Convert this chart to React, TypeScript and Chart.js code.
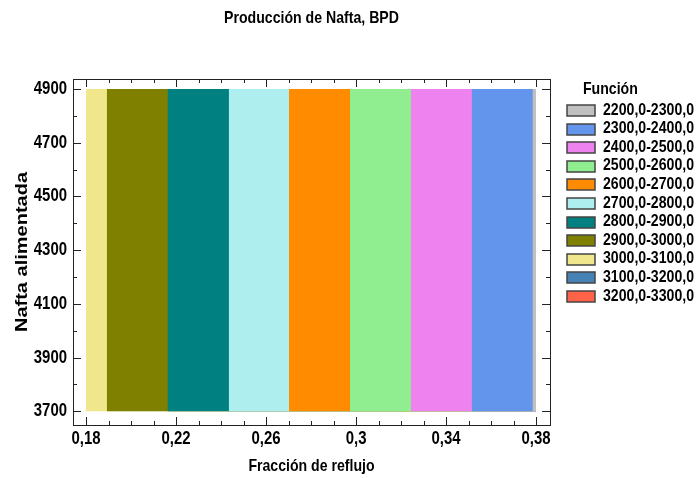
import React, { useEffect, useRef } from 'react';
import { Chart, registerables } from 'chart.js';

Chart.register(...registerables);

const chartTitle = 'Producción de Nafta, BPD';
const xTitle = 'Fracción de reflujo';
const yTitle = 'Nafta alimentada';
const legendTitle = 'Función';

const legendLabels = [
  '2200,0-2300,0', '2300,0-2400,0', '2400,0-2500,0', '2500,0-2600,0', '2600,0-2700,0',
  '2700,0-2800,0', '2800,0-2900,0', '2900,0-3000,0', '3000,0-3100,0', '3100,0-3200,0', '3200,0-3300,0',
];
const legendColors = [
  '#C0C0C0', '#6495ED', '#EE82EE', '#90EE90', '#FF8C00',
  '#AFEEEE', '#008080', '#808000', '#F0E68C', '#4682B4', '#FF6347',
];

// band boundaries along x (reflux fraction), left to right
const bandEdges = [0.18, 0.1892, 0.2162, 0.2434, 0.2702, 0.2973, 0.3243, 0.3514, 0.3784, 0.38];
// legend index (contour level) for each band
const bandLevel = [8, 7, 6, 5, 4, 3, 2, 1, 0];
const yLow = 3700;
const yHigh = 4900;

const xMin = 0.1742;
const xMax = 0.3862;
const yMin = 3649;
const yMax = 4937;

const xTicks = [0.18, 0.22, 0.26, 0.3, 0.34, 0.38];
const xTickLabels = ['0,18', '0,22', '0,26', '0,3', '0,34', '0,38'];
const xMinor = [0.18, 0.19, 0.2, 0.21, 0.22, 0.23, 0.24, 0.25, 0.26, 0.27, 0.28, 0.29, 0.3, 0.31, 0.32, 0.33, 0.34, 0.35, 0.36, 0.37, 0.38];
const yTicks = [3700, 3900, 4100, 4300, 4500, 4700, 4900];
const yTickLabels = ['3700', '3900', '4100', '4300', '4500', '4700', '4900'];
const yMinor = [3700, 3800, 3900, 4000, 4100, 4200, 4300, 4400, 4500, 4600, 4700, 4800, 4900];

const FONT = '"Liberation Sans", Arial, sans-serif';
const SQ = 0.83;

function drawText(ctx: any, text: string, x: number, y: number, size: number, align: string, rot = 0) {
  ctx.save();
  ctx.translate(x, y);
  if (rot) {
    ctx.rotate(rot);
    ctx.scale(1, SQ);
  } else {
    ctx.scale(SQ, 1);
  }
  ctx.font = `bold ${size}px ${FONT}`;
  ctx.textAlign = align;
  ctx.textBaseline = 'middle';
  ctx.fillStyle = '#000';
  ctx.fillText(text, 0, 0);
  ctx.restore();
}

const overlayPlugin = {
  id: 'overlay',
  afterDraw(chart: any) {
    const ctx = chart.ctx;
    const { left, right, top, bottom } = chart.chartArea;
    const xs = chart.scales.x;
    const ys = chart.scales.y;
    ctx.save();
    // frame
    ctx.strokeStyle = '#222';
    ctx.lineWidth = 1;
    ctx.strokeRect(Math.round(left) + 0.5, Math.round(top) + 0.5, Math.round(right - left), Math.round(bottom - top));
    ctx.beginPath();
    xMinor.forEach((v) => {
      const px = Math.round(xs.getPixelForValue(v)) + 0.5;
      const len = xTicks.some((t) => Math.abs(t - v) < 1e-9) ? 8 : 4;
      ctx.moveTo(px, bottom);
      ctx.lineTo(px, bottom - len);
      ctx.moveTo(px, top);
      ctx.lineTo(px, top + len);
    });
    yMinor.forEach((v) => {
      const py = Math.round(ys.getPixelForValue(v)) + 0.5;
      const len = yTicks.includes(v) ? 8 : 4;
      ctx.moveTo(left, py);
      ctx.lineTo(left + len, py);
      ctx.moveTo(right, py);
      ctx.lineTo(right - len, py);
    });
    ctx.stroke();
    ctx.restore();

    // tick labels from the library scales
    xTicks.forEach((v, i) => drawText(ctx, xTickLabels[i], xs.getPixelForValue(v), bottom + 14, 18, 'center'));
    yTicks.forEach((v, i) => drawText(ctx, yTickLabels[i], left - 6, ys.getPixelForValue(v), 18, 'right'));

    // titles
    drawText(ctx, chartTitle, (left + right) / 2, 18, 17, 'center');
    drawText(ctx, xTitle, (left + right) / 2, 466, 17, 'center');
    drawText(ctx, yTitle, 22, (top + bottom) / 2, 20, 'center', -Math.PI / 2);

    // legend
    drawText(ctx, legendTitle, 583, 89, 17, 'left');
    legendLabels.forEach((lab, i) => {
      const cy = 110 + i * 18.6;
      ctx.save();
      ctx.fillStyle = legendColors[i];
      ctx.fillRect(567, Math.round(cy - 5), 28, 11);
      ctx.strokeStyle = '#444';
      ctx.lineWidth = 1.5;
      ctx.strokeRect(567, Math.round(cy - 5), 28, 11);
      ctx.restore();
      drawText(ctx, lab, 603, cy, 17, 'left');
    });
  },
};

export default function App() {
  const ref = useRef<HTMLCanvasElement>(null);
  useEffect(() => {
    if (!ref.current) return;
    const lastEdge = bandEdges[bandEdges.length - 1];
    // each level region spans from its left boundary to the right end; later (lower) levels paint over it
    const datasets = bandLevel.map((lvl, i) => ({
      label: legendLabels[lvl],
      data: [
        { x: bandEdges[i], y: yHigh },
        { x: i === bandLevel.length - 1 ? bandEdges[i + 1] : lastEdge, y: yHigh },
      ],
      order: bandLevel.length - i,
      showLine: true,
      borderWidth: 0,
      borderColor: legendColors[lvl],
      backgroundColor: legendColors[lvl],
      pointRadius: 0,
      fill: { target: { value: yLow } },
    }));
    const chart = new Chart(ref.current, {
      type: 'scatter',
      data: { datasets },
      options: {
        animation: false,
        responsive: false,
        layout: { padding: { left: 0, top: 79, right: 147, bottom: 0 } },
        plugins: {
          legend: { display: false },
          title: { display: false },
          tooltip: { enabled: false },
        },
        scales: {
          x: {
            type: 'linear',
            min: xMin,
            max: xMax,
            grid: { display: false, drawTicks: false },
            border: { display: false },
            afterBuildTicks: (s: any) => { s.ticks = xTicks.map((v) => ({ value: v })); },
            afterFit: (s: any) => { s.height = 53; },
            ticks: { display: false },
            title: { display: false, text: xTitle },
          },
          y: {
            type: 'linear',
            min: yMin,
            max: yMax,
            grid: { display: false, drawTicks: false },
            border: { display: false },
            afterBuildTicks: (s: any) => { s.ticks = yTicks.map((v) => ({ value: v })); },
            afterFit: (s: any) => { s.width = 73; },
            ticks: { display: false },
            title: { display: false, text: yTitle },
          },
        },
      },
      plugins: [overlayPlugin],
    });
    return () => chart.destroy();
  }, []);
  return (
    <div style={{ position: 'fixed', left: 0, top: 0, width: 697, height: 478, background: '#fff' }}>
      <canvas ref={ref} width={697} height={478} style={{ width: 697, height: 478 }} />
    </div>
  );
}
